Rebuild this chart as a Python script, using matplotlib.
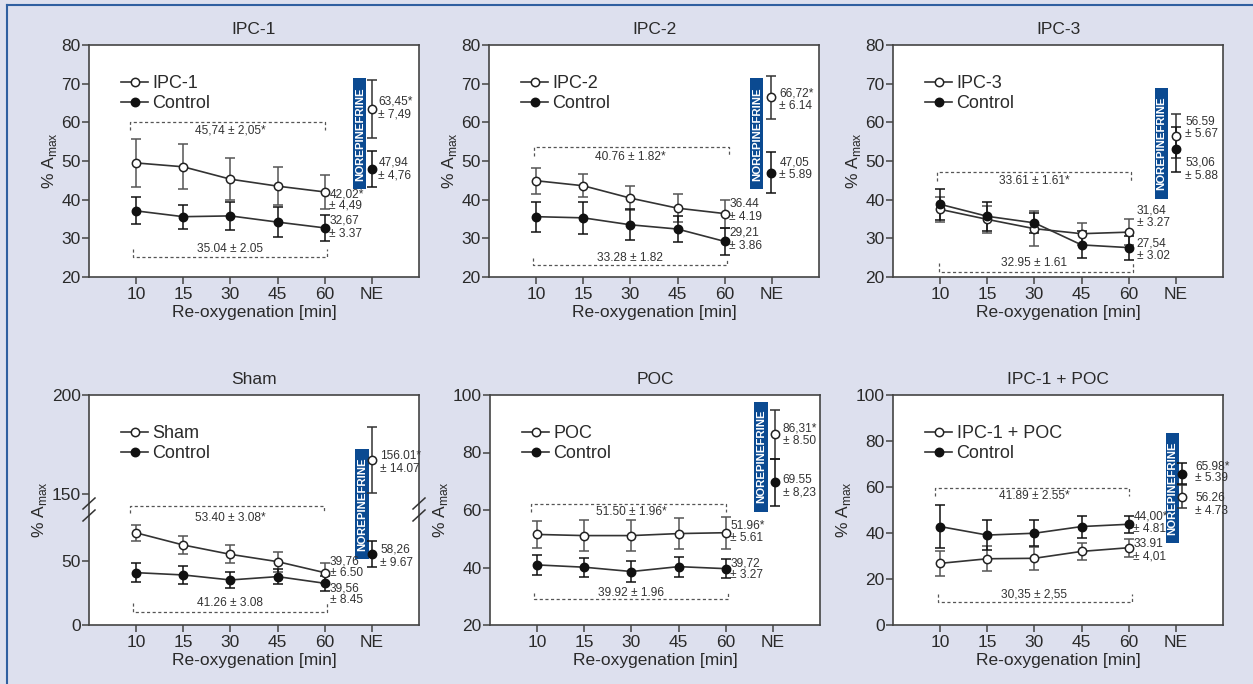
import numpy as np
import matplotlib
matplotlib.use("Agg")
import matplotlib.pyplot as plt
from matplotlib.lines import Line2D
from matplotlib.patches import Rectangle

plt.rcParams['font.family'] = ['Liberation Sans Narrow', 'Liberation Sans', 'DejaVu Sans']

# ---------------- data ----------------
times = ["10", "15", "30", "45", "60"]
xtick_labels = ["10", "15", "30", "45", "60", "NE"]

# IPC-1
ipc1_mean = [49.5, 48.5, 45.3, 43.5, 42.0]
ipc1_err = [6.3, 5.8, 5.5, 5.0, 4.5]
ipc1_ctrl = [37.1, 35.6, 35.8, 34.2, 32.7]
ipc1_ctrl_err = [3.5, 3.1, 3.6, 3.8, 3.4]
ipc1_ne = [63.45, 47.94]
ipc1_ne_err = [7.4, 4.76]

# IPC-2
ipc2_mean = [44.9, 43.6, 40.4, 37.8, 36.4]
ipc2_err = [3.4, 3.0, 3.1, 3.7, 3.6]
ipc2_ctrl = [35.6, 35.3, 33.5, 32.4, 29.2]
ipc2_ctrl_err = [3.9, 4.2, 4.0, 3.4, 3.5]
ipc2_ne = [66.5, 47.0]
ipc2_ne_err = [5.6, 5.2]

# IPC-3
ipc3_mean = [37.5, 34.9, 32.5, 31.2, 31.6]
ipc3_err = [3.3, 3.5, 4.5, 2.8, 3.3]
ipc3_ctrl = [38.8, 35.7, 34.0, 28.3, 27.6]
ipc3_ctrl_err = [4.0, 3.7, 2.5, 3.5, 3.1]
ipc3_ne = [56.5, 53.0]
ipc3_ne_err = [5.6, 5.9]

# Sham
sham_mean = [72.0, 62.5, 55.2, 49.5, 40.9]
sham_err = [6.5, 7.0, 7.0, 7.8, 7.8]
sham_ctrl = [40.9, 39.1, 35.2, 37.8, 32.6]
sham_ctrl_err = [7.3, 7.0, 6.5, 6.0, 5.7]
sham_ne = [167.0, 55.5]
sham_ne_err = [16.6, 10.5]

# POC
poc_mean = [51.5, 51.1, 51.1, 51.8, 52.1]
poc_err = [4.8, 5.5, 5.5, 5.3, 5.6]
poc_ctrl = [40.9, 40.1, 38.6, 40.3, 39.6]
poc_ctrl_err = [3.4, 3.3, 3.5, 3.5, 3.3]
poc_ne = [86.4, 69.6]
poc_ne_err = [8.5, 8.2]

# IPC-1 + POC
ipcpoc_mean = [26.8, 28.8, 29.0, 32.0, 33.6]
ipcpoc_err = [5.5, 5.5, 5.0, 3.8, 4.0]
ipcpoc_ctrl = [42.8, 39.1, 39.9, 42.8, 43.8]
ipcpoc_ctrl_err = [9.5, 6.6, 5.7, 4.8, 3.8]
ipcpoc_ne = [55.8, 65.8]
ipcpoc_ne_err = [5.0, 4.5]

# annotation texts
ipc1_texts = ["45,74 ± 2,05*", "35.04 ± 2.05", "42,02*", "± 4,49", "32,67", "± 3.37",
              "63,45*", "± 7,49", "47,94", "± 4,76"]
ipc2_texts = ["40.76 ± 1.82*", "33.28 ± 1.82", "36.44", "± 4.19", "29,21", "± 3.86",
              "66,72*", "± 6.14", "47,05", "± 5.89"]
ipc3_texts = ["33.61 ± 1.61*", "32.95 ± 1.61", "31,64", "± 3.27", "27,54", "± 3.02",
              "56.59", "± 5.67", "53,06", "± 5.88"]
sham_texts = ["53.40 ± 3.08*", "41.26 ± 3.08", "39,76", "± 6.50", "39,56", "± 8.45",
              "156.01*", "± 14.07", "58,26", "± 9.67"]
poc_texts = ["51.50 ± 1.96*", "39.92 ± 1.96", "51.96*", "± 5.61", "39,72", "± 3.27",
             "86,31*", "± 8.50", "69.55", "± 8,23"]
ipcpoc_texts = ["41.89 ± 2.55*", "30,35 ± 2,55", "44,00*", "± 4.81", "33.91", "± 4,01",
                "65.98*", "± 5.39", "56.26", "± 4.73"]

titles = ["IPC-1", "IPC-2", "IPC-3", "Sham", "POC", "IPC-1 + POC"]
bar_text = "NOREPINEFRINE"

# ---------------- style ----------------
BG = "#dde0ee"
LINE = "#333333"
TXT = "#2a2a2a"
BLUE = "#0b4a91"

fig = plt.figure(figsize=(12.53, 6.84), dpi=100, facecolor=BG)
W, H = 1253, 684

def axes_px(left, top, right, bottom):
    return fig.add_axes([left / W, 1 - bottom / H, (right - left) / W, (bottom - top) / H])

ax1 = axes_px(89, 45, 419, 277)
ax2 = axes_px(489, 45, 819, 277)
ax3 = axes_px(893, 45, 1223, 277)
ax4 = axes_px(89, 395, 419, 625)
ax5 = axes_px(490, 395, 820, 625)
ax6 = axes_px(893, 395, 1223, 625)

# broken scale for Sham
kn_v = [0, 95, 150, 200]
kn_t = [0, 121.6, 131, 230]
def fwd(y):
    return np.interp(y, kn_v, kn_t)
def inv(t):
    return np.interp(t, kn_t, kn_v)


def panel(ax, title, lbl, mean, err, ctrl, ctrl_err, ne, ne_err, ne_x, texts,
          ylim, yticks, bar, brk_top, brk_bot, txt_pos, scale=None):
    x = np.arange(len(times))
    if scale is not None:
        ax.set_yscale('function', functions=scale)
    ax.set_facecolor("white")
    # error bars
    ax.errorbar(x, mean, yerr=err, fmt='none', ecolor="#555555", elinewidth=1.1,
                capsize=3.5, capthick=1.1, zorder=3)
    ax.errorbar(x, ctrl, yerr=ctrl_err, fmt='none', ecolor="#111111", elinewidth=1.1,
                capsize=3.5, capthick=1.1, zorder=3)
    l1, = ax.plot(x, mean, '-o', color=LINE, lw=1.2, ms=6, mfc='white', mec="#222222",
                  mew=1.1, zorder=5, label=lbl)
    l2, = ax.plot(x, ctrl, '-o', color=LINE, lw=1.2, ms=6, mfc='#111111', mec="#111111",
                  mew=1.1, zorder=5, label="Control")
    # NE
    ax.errorbar([ne_x], [ne[0]], yerr=[ne_err[0]], fmt='none', ecolor="#333333",
                elinewidth=1.1, capsize=3.5, capthick=1.1, zorder=3)
    ax.errorbar([ne_x], [ne[1]], yerr=[ne_err[1]], fmt='none', ecolor="#111111",
                elinewidth=1.1, capsize=3.5, capthick=1.1, zorder=3)
    ax.plot([ne_x], [ne[0]], 'o', ms=6, mfc='white', mec="#222222", mew=1.1, zorder=5)
    ax.plot([ne_x], [ne[1]], 'o', ms=6, mfc='#111111', mec="#111111", mew=1.1, zorder=5)
    # blue bar
    bx0, bx1, by0, by1 = bar
    ax.add_patch(Rectangle((bx0, by0), bx1 - bx0, by1 - by0, facecolor=BLUE,
                           edgecolor='none', zorder=2))
    if scale is not None:
        ymid = float(inv((fwd(by0) + fwd(by1)) / 2))
    else:
        ymid = (by0 + by1) / 2
    ax.text((bx0 + bx1) / 2, ymid, bar_text, rotation=90, ha='center', va='center',
            color='white', fontsize=8.2, fontweight='bold', zorder=6)
    # brackets
    for (bx0_, bx1_, yl, ye) in (brk_top, brk_bot):
        ax.plot([bx0_, bx0_, bx1_, bx1_], [ye, yl, yl, ye], ls=(0, (2.5, 2)), lw=0.9,
                color="#555555", zorder=2)
    # texts
    for s, (tx, ty, ha) in zip(texts, txt_pos):
        ax.text(tx, ty, s, ha=ha, va='center', fontsize=8.6, color="#333333", zorder=6)

    ax.set_xlim(-1, 6)
    ax.set_ylim(*ylim)
    ax.set_yticks(yticks)
    ax.set_yticklabels([str(v) for v in yticks])
    ax.set_xticks(np.arange(6))
    ax.set_xticklabels(xtick_labels)
    ax.tick_params(axis='both', labelsize=12.5, colors="#444444", labelcolor=TXT,
                   length=5, width=1.1, direction='out', pad=2)
    ax.tick_params(axis='y', pad=1)
    for sp in ax.spines.values():
        sp.set_color("#444444")
        sp.set_linewidth(1.2)
    ax.set_xlabel("Re-oxygenation [min]", fontsize=12.5, color=TXT, labelpad=2)
    ax.set_ylabel("% A$_{\\mathregular{max}}$", fontsize=12.5, color=TXT, labelpad=2)
    ax.set_title(title, fontsize=12.5, color=TXT, pad=8)
    ax.legend(handles=[l1, l2], loc='upper left', bbox_to_anchor=(0.075, 0.9),
              frameon=False, fontsize=13, handlelength=1.5, handletextpad=0.25,
              labelspacing=0.15, borderaxespad=0, labelcolor=TXT)


def tp(x60, xne, ys, yb_top, yb_bot):
    # positions of the ten annotation texts
    mid = 2.0
    return [(mid, yb_top, 'center'), (mid, yb_bot, 'center'),
            (x60, ys[0], 'left'), (x60, ys[1], 'left'), (x60, ys[2], 'left'), (x60, ys[3], 'left'),
            (xne, ys[4], 'left'), (xne, ys[5], 'left'), (xne, ys[6], 'left'), (xne, ys[7], 'left')]


panel(ax1, titles[0], "IPC-1", ipc1_mean, ipc1_err, ipc1_ctrl, ipc1_ctrl_err, ipc1_ne, ipc1_ne_err,
      5.0, ipc1_texts, (20, 80), [20, 30, 40, 50, 60, 70, 80],
      (4.61, 4.88, 42.7, 71.4), (-0.13, 4.0, 60.0, 58.0), (-0.07, 4.05, 25.2, 27.2),
      tp(4.1, 5.14, [41.4, 38.4, 34.7, 31.2, 65.4, 61.9, 49.6, 46.2], 58.0, 27.2))

panel(ax2, titles[1], "IPC-2", ipc2_mean, ipc2_err, ipc2_ctrl, ipc2_ctrl_err, ipc2_ne, ipc2_ne_err,
      4.99, ipc2_texts, (20, 80), [20, 30, 40, 50, 60, 70, 80],
      (4.54, 4.82, 42.7, 71.4), (-0.04, 4.09, 53.5, 51.3), (-0.06, 4.05, 23.2, 24.9),
      tp(4.1, 5.16, [38.8, 35.6, 31.4, 28.0, 67.5, 64.3, 49.7, 46.4], 51.1, 25.0))

panel(ax3, titles[2], "IPC-3", ipc3_mean, ipc3_err, ipc3_ctrl, ipc3_ctrl_err, ipc3_ne, ipc3_ne_err,
      5.0, ipc3_texts, (20, 80), [20, 30, 40, 50, 60, 70, 80],
      (4.55, 4.83, 40.3, 69.0), (-0.06, 4.05, 47.1, 44.9), (-0.03, 4.1, 21.3, 23.5),
      tp(4.17, 5.2, [37.3, 34.0, 28.6, 25.4, 60.2, 56.9, 49.6, 46.2], 44.9, 23.5))

panel(ax4, titles[3], "Sham", sham_mean, sham_err, sham_ctrl, sham_ctrl_err, sham_ne, sham_ne_err,
      5.01, sham_texts, (0, 200), [0, 50, 150, 200],
      (4.65, 4.93, 51.5, 172.7), (-0.13, 3.99, 93.0, 87.5), (-0.06, 4.04, 10.4, 17.0),
      tp(4.11, 5.18, [50.0, 40.9, 28.6, 19.5, 169.2, 162.5, 58.6, 48.7], 83.9, 17.0),
      scale=(fwd, inv))

panel(ax5, titles[4], "POC", poc_mean, poc_err, poc_ctrl, poc_ctrl_err, poc_ne, poc_ne_err,
      5.05, poc_texts, (20, 100), [20, 40, 60, 80, 100],
      (4.61, 4.89, 59.4, 97.7), (-0.12, 4.01, 62.0, 59.3), (-0.06, 4.05, 28.9, 31.3),
      tp(4.1, 5.21, [54.4, 50.1, 41.4, 37.4, 88.4, 84.0, 70.4, 66.0], 59.4, 31.2))

panel(ax6, titles[5], "IPC-1 + POC", ipcpoc_mean, ipcpoc_err, ipcpoc_ctrl, ipcpoc_ctrl_err,
      ipcpoc_ne, ipcpoc_ne_err, 5.14, ipcpoc_texts, (0, 100), [0, 20, 40, 60, 80, 100],
      (4.79, 5.07, 35.8, 83.6), (-0.1, 4.01, 59.6, 56.1), (-0.04, 4.07, 10.1, 13.3),
      tp(4.1, 5.41, [47.1, 41.6, 35.2, 29.7, 68.6, 64.1, 55.4, 49.7], 56.1, 13.3))

# break marks on Sham panel
tb = 115.5 / 230.0
dx, dy = 6 / 330, 5.5 / 230
sep = 6 / 230
for xs in (0.0, 1.0):
    for off in (-sep, sep):
        ax4.plot([xs - dx, xs + dx], [tb + off - dy, tb + off + dy], transform=ax4.transAxes,
                 color="#333333", lw=1.1, clip_on=False, zorder=7)

# figure border (top and left)
fig.add_artist(Line2D([7 / W, 1], [1 - 5 / H, 1 - 5 / H], color="#2f5fa0", lw=1.5))
fig.add_artist(Line2D([7 / W, 7 / W], [0, 1 - 5 / H], color="#2f5fa0", lw=1.5))

fig.savefig("out.png", dpi=100, facecolor=BG)
